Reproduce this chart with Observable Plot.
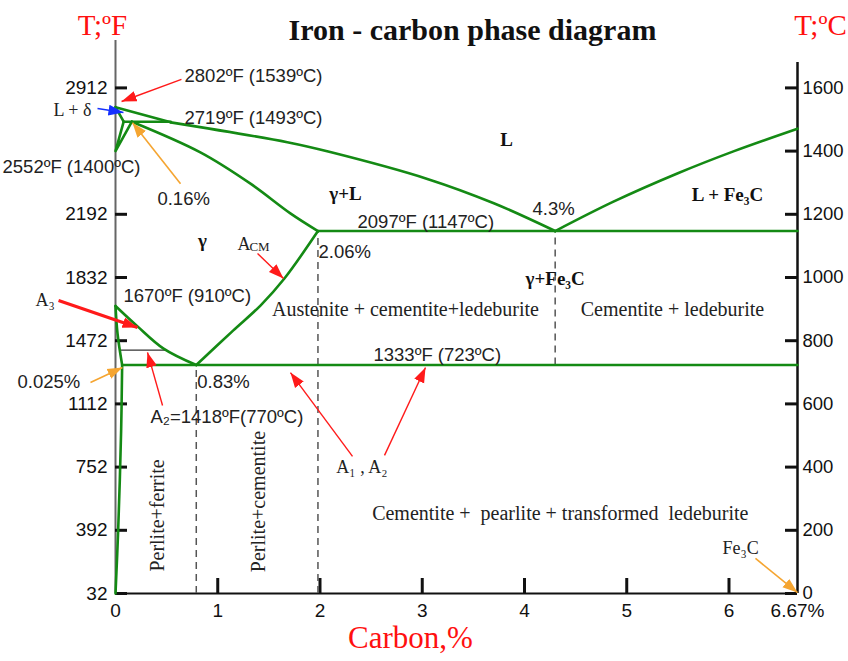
<!DOCTYPE html>
<html><head><meta charset="utf-8">
<script src="https://cdn.jsdelivr.net/npm/d3@7"></script>
<script src="https://cdn.jsdelivr.net/npm/@observablehq/plot@0.6"></script>
<style>body{margin:0;background:#fff}</style>
</head><body><div id="chart"></div>
<script>
// ---- phase boundary data: [carbon %, temperature °C] ----
const liquidusDelta = [[0,1539],[0.54,1491]];
const liquidus = [[0.54,1491],[1.68,1428],[2.1,1397],[3.05,1312],[3.7,1235],[4.3,1147]];
const liquidusRight = [[4.3,1147],[4.87,1240],[5.5,1330],[6.05,1400],[6.67,1471]];
const deltaSolidus = [[0,1539],[0.08,1493]];
const deltaGamma = [[0.08,1493],[0,1400],[0.16,1493]];
const peritectic = [[0.08,1493],[0.54,1493]];
const solidusGamma = [[0.16,1493],[0.83,1396],[1.32,1297],[1.71,1203],[1.98,1147]];
const eutectic = [[1.98,1147],[6.67,1147]];
const acm = [[0.79,723],[1.15,832],[1.42,912],[1.65,996],[1.98,1147]];
const a3 = [[0,910],[0.21,847],[0.47,775],[0.79,723]];
const ferriteUpper = [[0,910],[0.02,822],[0.065,723]];
const ferriteSolvus = [[0.065,723],[0.055,515],[0.026,199],[0,0]];
const eutectoid = [[0.065,723],[6.67,723]];
const a2Line = [[0.05,770],[0.5,770]];
const dashedLines = [{x:0.79,y1:0,y2:723},{x:1.98,y1:0,y2:1147},{x:4.3,y1:723,y2:1147}];

// ---- axes ----
const tempF = [32,392,752,1112,1472,1832,2192,2912];
const tempC = [0,200,400,600,800,1000,1200,1400,1600];
const carbonTicks = [1,2,3,4,5,6];
const carbonLabels = [0,1,2,3,4,5,6,6.67];

// ---- annotations ----
const numberLabels = [
  {t:"2802ºF (1539ºC)", x:0.675, y:1636},
  {t:"2719ºF (1493ºC)", x:0.675, y:1503},
  {t:"2552ºF (1400ºC)", x:-1.105, y:1348},
  {t:"0.16%", x:0.41, y:1247},
  {t:"4.3%", x:4.078, y:1218},
  {t:"2097ºF (1147ºC)", x:2.367, y:1174},
  {t:"2.06%", x:1.985, y:1079},
  {t:"1670ºF (910ºC)", x:0.078, y:940},
  {t:"1333ºF (723ºC)", x:2.523, y:753},
  {t:"0.025%", x:-0.958, y:668},
  {t:"0.83%", x:0.80, y:668},
  {t:"A₂=1418ºF(770ºC)", x:0.342, y:557}
];
const phaseLabels = [
  {t:"L", x:3.824, y:1434},
  {t:"γ+L", x:2.25, y:1266},
  {t:"γ", x:0.85, y:1117},
  {t:"L + Fe₃C", x:5.985, y:1260},
  {t:"γ+Fe₃C", x:4.30, y:997}
];
const regionLabels = [
  {t:"Austenite + cementite+ledeburite", x:2.836, y:899},
  {t:"Cementite + ledeburite", x:5.447, y:899},
  {t:"Cementite +\u00a0 pearlite + transformed\u00a0 ledeburite", x:4.35, y:253}
];
const smallSerifLabels = [
  {t:"L + δ", x:-0.606, y:1528},
  {t:"A", x:1.193, y:1104},
  {t:"A₃", x:-0.782, y:927},
  {t:"A₁ , A₂", x:2.16, y:399},
  {t:"Fe₃C", x:5.936, y:142}
];
const subLabels = [{t:"CM", x:1.31, y:1096}];
const verticalLabels = [
  {t:"Perlite+ferrite", x:0.41, y:247},
  {t:"Perlite+cementite", x:1.40, y:291}
];
const redArrows = [
  {x1:0.645,y1:1627,x2:0.059,y2:1557},
  {x1:1.389,y1:1076,x2:1.643,y2:997},
  {x1:0.46,y1:595,x2:0.313,y2:763},
  {x1:2.318,y1:434,x2:1.711,y2:699},
  {x1:2.631,y1:437,x2:3.032,y2:715}
];
const thickRedArrows = [{x1:-0.557,y1:927,x2:0.215,y2:842}];
const orangeArrows = [
  {x1:0.636,y1:1297,x2:0.166,y2:1490},
  {x1:-0.245,y1:668,x2:0.068,y2:715},
  {x1:6.259,y1:111,x2:6.67,y2:3}
];
const blueArrows = [{x1:-0.176,y1:1535,x2:0.078,y2:1522}];

const GREEN = "#148a14";
const SANS = "Liberation Sans, Arial, sans-serif";
const SERIF = "Liberation Serif, Times New Roman, serif";
const px = d => d[0], py = d => d[1];
const curve = (data) => Plot.line(data, {x: px, y: py, stroke: GREEN, strokeWidth: 2.6, curve: "catmull-rom"});
const straight = (data) => Plot.line(data, {x: px, y: py, stroke: GREEN, strokeWidth: 2.6});
const fToC = f => (f - 32) / 1.8;
const leftPos = tempF.map(fToC);
const leftFmt = new Map(leftPos.map((c, i) => [c, String(tempF[i])]));

const chart = Plot.plot({
  width: 848, height: 661,
  marginTop: 40, marginBottom: 68, marginLeft: 115, marginRight: 51,
  style: {fontFamily: SANS, background: "white", color: "#111"},
  x: {domain: [0, 6.67], axis: null},
  y: {domain: [0, 1750], axis: null},
  marks: [
    // axes lines
    Plot.ruleX([0], {stroke: "#666", strokeWidth: 2}),
    Plot.ruleX([6.67], {stroke: "#111", strokeWidth: 2.5, insetTop: 22}),
    Plot.ruleY([0], {stroke: "#111", strokeWidth: 2}),
    Plot.tickY(leftPos, {y: d => d, stroke: "#111", strokeWidth: 3, insetRight: 670}),
    Plot.tickY(tempC, {y: d => d, stroke: "#111", strokeWidth: 3, insetLeft: 670}),
    Plot.tickX(carbonTicks, {x: d => d, stroke: "#111", strokeWidth: 3, insetTop: 538}),
    Plot.axisY(leftPos, {anchor: "left", tickSize: 0, tickPadding: 8, fontSize: 19, tickFormat: d => leftFmt.get(d), label: null}),
    Plot.axisY(tempC, {anchor: "right", tickSize: 0, tickPadding: 5, fontSize: 18.5, tickFormat: d => String(d), label: null}),
    Plot.axisX(carbonLabels, {anchor: "bottom", tickSize: 0, tickPadding: 10, fontSize: 19, tickFormat: d => d === 6.67 ? "6.67%" : String(d), label: null}),
    // dashed verticals
    Plot.ruleX(dashedLines, {x: "x", y1: "y1", y2: "y2", stroke: "#555", strokeWidth: 1.5, strokeDasharray: "7,5"}),
    // A2 line
    Plot.line(a2Line, {x: px, y: py, stroke: "#333", strokeWidth: 1.2}),
    // phase boundaries
    straight(liquidusDelta), curve(liquidus), curve(liquidusRight),
    straight(deltaSolidus), straight(deltaGamma), straight(peritectic),
    curve(solidusGamma), straight(eutectic), curve(acm), curve(a3),
    curve(ferriteUpper), curve(ferriteSolvus), straight(eutectoid),
    // arrows
    Plot.link(redArrows, {x1: "x1", y1: "y1", x2: "x2", y2: "y2", stroke: "#ff1a1a", strokeWidth: 1.4, markerEnd: "arrow"}),
    Plot.link(thickRedArrows, {x1: "x1", y1: "y1", x2: "x2", y2: "y2", stroke: "#ff1a1a", strokeWidth: 3.2, markerEnd: "arrow"}),
    Plot.link(orangeArrows, {x1: "x1", y1: "y1", x2: "x2", y2: "y2", stroke: "#f5a531", strokeWidth: 1.6, markerEnd: "arrow"}),
    Plot.link(blueArrows, {x1: "x1", y1: "y1", x2: "x2", y2: "y2", stroke: "#1530ff", strokeWidth: 1.6, markerEnd: "arrow"}),
    // annotations
    Plot.text(numberLabels, {x: "x", y: "y", text: "t", textAnchor: "start", fontSize: 18.5, fontFamily: SANS, fill: "#222"}),
    Plot.text(phaseLabels, {x: "x", y: "y", text: "t", fontSize: 19, fontWeight: "bold", fontFamily: SERIF, fill: "#111"}),
    Plot.text(regionLabels, {x: "x", y: "y", text: "t", fontSize: 20, fontFamily: SERIF, fill: "#222"}),
    Plot.text(smallSerifLabels, {x: "x", y: "y", text: "t", textAnchor: "start", fontSize: 18, fontFamily: SERIF, fill: "#222"}),
    Plot.text(subLabels, {x: "x", y: "y", text: "t", textAnchor: "start", fontSize: 13, fontFamily: SERIF, fill: "#222"}),
    Plot.text(verticalLabels, {x: "x", y: "y", text: "t", rotate: -90, fontSize: 20, fontFamily: SERIF, fill: "#222"}),
    // titles
    Plot.text(["Iron - carbon phase diagram"], {text: d => d, frameAnchor: "top-left", textAnchor: "middle", dx: 357, dy: -22, fontSize: 30, fontWeight: "bold", fontFamily: SERIF, fill: "#111"}),
    Plot.text(["T;ºF"], {text: d => d, frameAnchor: "top-left", textAnchor: "middle", dx: -13, dy: -26, fontSize: 29, fontFamily: SERIF, fill: "#ff1010"}),
    Plot.text(["T;ºC"], {text: d => d, frameAnchor: "top-right", textAnchor: "middle", dx: 23, dy: -26, fontSize: 29, fontFamily: SERIF, fill: "#ff1010"}),
    Plot.text(["Carbon,%"], {text: d => d, frameAnchor: "bottom-left", textAnchor: "middle", dx: 295, dy: 54, fontSize: 31, fontFamily: SERIF, fill: "#ff1010"})
  ]
});

// filled arrow heads
chart.querySelectorAll("marker").forEach(m => {
  const c = m.getAttribute("stroke") || "red";
  m.setAttribute("viewBox", "-10 -5 10 10");
  m.setAttribute("markerUnits", "userSpaceOnUse");
  m.setAttribute("markerWidth", "15");
  m.setAttribute("markerHeight", "15");
  m.setAttribute("refX", "0");
  m.setAttribute("refY", "0");
  m.setAttribute("fill", c);
  m.setAttribute("stroke", "none");
  const p = m.querySelector("path");
  if (p) p.setAttribute("d", "M-10,-3.6L0,0L-10,3.6Z");
});
document.getElementById("chart").appendChild(chart);
</script>
</body></html>
